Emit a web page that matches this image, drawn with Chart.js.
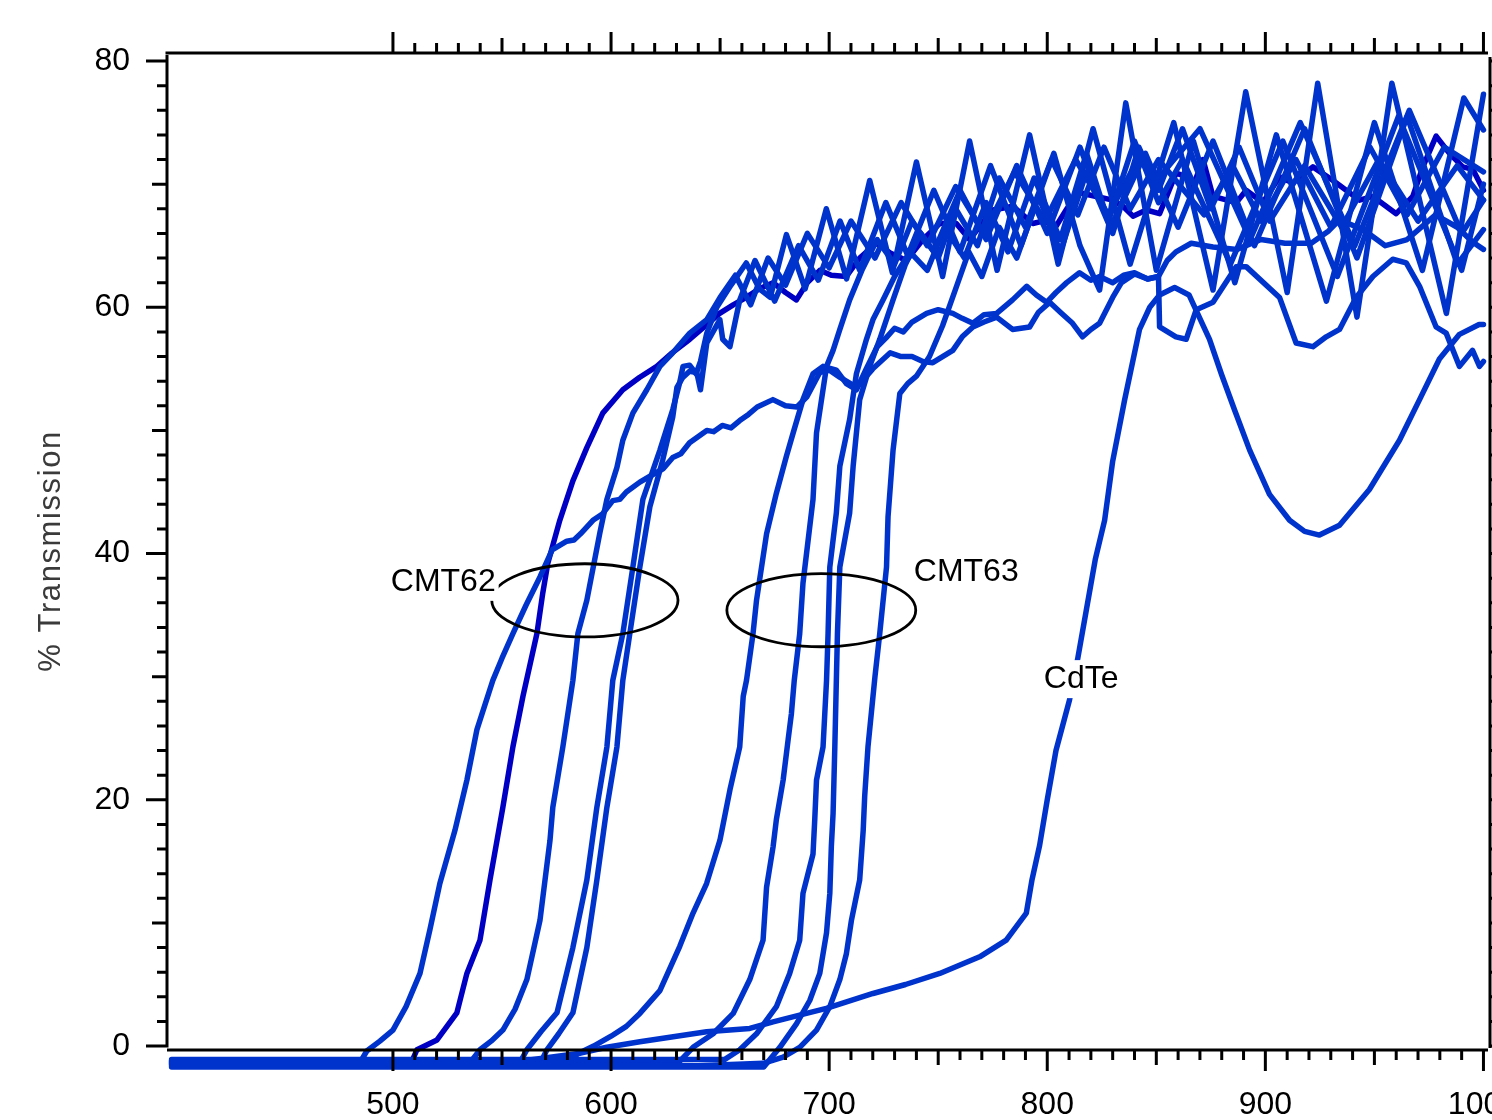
<!DOCTYPE html>
<html>
<head>
<meta charset="utf-8">
<title>% Transmission</title>
<script src="https://cdn.jsdelivr.net/npm/chart.js@4.4.1/dist/chart.umd.min.js"></script>
<style>
  body { margin: 0; background: #fff; }
  canvas { display: block; }
</style>
</head>
<body>
<canvas id="chart" width="1492" height="1120"></canvas>
<script>
// [wavelength nm, % transmission]

// CMT62 group
const cmt62a = [[398.5,-1.3],[485,-1.3],[488,-0.4],[494,0.4],[500,1.3],[506,3.2],[512.4,5.9],[517,9.5],[521.5,13.2],[528.4,17.5],[533.9,21.6],[538.5,25.7],[545.8,29.7],[550,31.5],[555,33.5],[561,35.8],[567.4,38.1],[573,40.3],[579.7,41.0],[583,41.1],[586,41.6],[591.7,42.7],[596,43.2],[600.8,44.3],[604,44.4],[607,45.0],[613.2,45.8],[620,46.5],[624,46.9],[628.3,47.8],[632,48.1],[636,49.0],[643.9,50.0],[647,49.9],[651,50.4],[655,50.2],[659,50.8],[663,51.3],[667,51.9],[674.2,52.5],[680,52.0],[685.2,51.9],[689.7,52.7],[695.7,54.7],[700,54.9],[705,54.3],[712.7,53.5],[720,55.0],[728,56.3],[733,56.0],[738,56.0],[743,55.6],[747.5,55.5],[756.7,56.5],[761,57.6],[765.9,58.4],[771,58.8],[776.8,59.2],[784.1,58.2],[791.9,58.4],[796,59.6],[801.1,60.4],[806,59.6],[811.6,58.7],[816.2,57.6],[820,58.2],[824,58.7],[830,60.8],[834,62.0],[840,62.7],[846,62.3],[851,62.5],[851.5,58.4],[859,57.6],[863.7,57.4],[868.3,59.8],[876,60.4],[886.6,63.3],[891.2,63.3],[906.5,60.8],[914.1,57.1],[921.8,56.8],[927.9,57.6],[934,58.2],[941.6,60.8],[949.3,62.5],[958.4,63.9],[964.6,63.6],[970.7,61.7],[978.3,58.4],[982.9,57.9],[989,55.2],[995,56.5],[998.2,55.2],[1000,55.6]];

const cmt62b = [[398.5,-1.5],[508,-1.5],[511,-0.3],[520.2,0.5],[529.3,2.7],[533.9,5.9],[539.9,8.6],[544.5,13.5],[547.7,16.7],[550.4,19.4],[555,24.3],[559.6,28.4],[566,33.5],[568.7,36.8],[571,39.2],[576.5,42.7],[582.5,45.9],[588.9,48.6],[596.2,51.4],[605.4,53.3],[613,54.3],[621,55.2],[628,56.3],[636.1,57.4],[642,58.3],[649.8,59.5],[656,60.2],[662,60.8],[668,61.5],[674.3,62.0],[680,61.2],[685,60.6],[690,62.0],[695.7,63.0],[701,62.6],[707.9,62.5],[714,64.0],[721.6,65.2],[728,64.4],[735.4,63.8],[743,65.5],[750.7,66.8],[758.3,66.8],[764.4,65.5],[770,66.8],[775.1,67.9],[784.3,68.2],[793.4,66.8],[798,67.0],[804.1,66.6],[809,68.0],[814.8,69.3],[822.5,69.0],[830.1,68.7],[834.7,68.2],[839.3,67.4],[845.4,67.9],[851.5,67.6],[859.1,70.9],[863.7,70.6],[866.8,69.8],[871.4,72.0],[876,69.0],[886.7,68.5],[891.2,69.5],[898.9,68.5],[906.5,70.6],[912.6,70.1],[921.8,71.4],[931,70.3],[943.2,68.7],[949.3,69.0],[960,67.6],[967.6,69.0],[972.2,71.4],[978.3,73.9],[984.4,72.5],[990.5,71.4],[995.1,71.2],[1000,69.5]];

const cmt62c = [[398.5,-1.2],[536,-1.2],[539.9,-0.3],[545,0.4],[550.4,1.3],[556,3.0],[561.4,5.4],[567.4,10.2],[572,16.7],[573.3,19.4],[577.9,24.3],[582.5,29.7],[584.8,33.5],[588.9,36.2],[594.9,41.7],[598.1,44.4],[602.7,47.0],[605.4,49.2],[610,51.4],[616.4,53.3],[622.4,55.2],[628.3,56.3],[636.1,57.9],[643.9,59.0],[650,60.8],[657,62.6],[664,60.2],[672,64.0],[680,61.8],[690,66.0],[700,63.2],[710,67.0],[721,64.0],[733,68.5],[745,65.0],[758,69.8],[771,66.0],[785,71.0],[799,67.0],[813,72.0],[828,67.5],[843,72.5],[851,70.5],[870,74.5],[893,65.5],[916,75.0],[941,65.0],[966,76.0],[990,66.0],[1000,68.7]];

const cmt62d = [[398.5,-1.4],[558,-1.4],[561.4,-0.3],[568,1.2],[575.2,2.7],[582.5,8.0],[588.9,13.5],[593.5,19.4],[598.1,24.3],[600.8,29.7],[605.4,33.5],[610,38.9],[614.6,44.4],[622.4,48.4],[628.3,51.7],[631.5,53.9],[633,55.2],[636,55.3],[639,54.6],[641,55.6],[643.9,57.9],[648.5,60.0],[655,61.8],[662,63.6],[668,61.5],[673,60.8],[680.4,65.9],[689,61.5],[698.7,68.0],[708,62.3],[718.6,70.3],[729,62.8],[740,71.8],[752,62.5],[764.4,73.5],[777,63.0],[791.9,74.0],[805,63.5],[821,74.5],[838,63.5],[858,75.0],[876,61.4],[891,77.5],[910,61.2],[924,78.2],[942,59.2],[958,78.2],[983,59.5],[1000,77.3]];

const cmt62e = [[398.5,-1.6],[567,-1.6],[570.6,-0.3],[576,1.0],[582.5,2.7],[588.9,8.0],[593.5,13.5],[598.1,19.4],[602.7,24.3],[605.4,29.7],[608.6,33.5],[613.2,38.9],[617.8,43.8],[623.7,47.6],[628.3,51.1],[630.2,53.5],[632.9,54.3],[636,54.8],[639.3,54.7],[641,53.3],[643.9,57.1],[649.9,59.0],[651.2,57.4],[654.5,56.8],[659,60.6],[666,63.8],[675,60.5],[686,65.0],[695,62.2],[705,67.0],[714,63.0],[726,68.5],[736,64.2],[748,69.5],[760,64.5],[774,71.5],[788,65.0],[803,72.5],[815,65.0],[824,61.4],[836,76.6],[850,63.0],[867,73.5],[886,62.0],[905,74.0],[928,60.5],[950,75.0],[972,63.0],[991,77.0],[1000,74.4]];

// CMT63 group
const cmt63h = [[398.5,-1.3],[580,-1.3],[585,-0.6],[592,0.0],[600,0.8],[607,1.6],[613.2,2.65],[622.4,4.5],[631.5,8.1],[637.6,10.8],[643.8,13.2],[649.9,16.7],[654.5,20.8],[659,24.3],[660.6,28.4],[662.1,29.7],[665.1,33.5],[666.7,36.2],[671.3,41.6],[675.8,44.9],[680.4,47.9],[683.5,49.8],[688,52.5],[692.6,54.6],[697.2,55.2],[703.3,54.9],[707.9,53.8],[712.5,53.3],[717,55.0],[722,56.8],[726,57.5],[730,58.3],[734,58.0],[738,58.8],[744.7,59.5],[750,59.8],[756.7,59.5],[761,59.1],[765.9,58.7],[771,59.4],[776.8,59.5],[784.1,60.6],[790.6,61.7],[795,61.0],[799.7,60.4],[804,61.2],[808.9,62.0],[814.8,62.8],[820,62.2],[824,62.5],[830,62.0],[835,62.6],[840,62.8],[846,62.3],[851,62.5],[855,63.8],[859,64.5],[866,65.2],[876,64.9],[887,64.7],[898,65.5],[909,65.2],[921,65.2],[929,66.2],[934,67.1],[945,66.3],[955,65.0],[965,65.5],[978,67.5],[988,66.5],[995,65.3],[1000,64.7]];

const cmt63i = [[398.5,-1.5],[630,-1.5],[637.6,-0.1],[646.8,1.0],[656,2.65],[663.6,5.4],[669.7,8.6],[671.3,12.9],[674.3,16.2],[675.8,18.4],[678.9,21.6],[681.2,24.9],[682.7,27.0],[684,29.7],[686.5,33.5],[688,37.6],[692.6,44.4],[694.2,49.8],[696.5,52.5],[698.8,55.2],[701.8,56.5],[704.9,58.2],[709.4,60.6],[715,63.0],[722,65.5],[730,63.5],[738,67.0],[748,64.5],[760,69.5],[772,65.5],[786,71.5],[800,66.0],[815,73.0],[829,66.5],[845,72.5],[851,70.0],[860,66.5],[876,73.5],[895,65.0],[918,74.5],[942,64.0],[965,75.5],[988,63.5],[1000,66.3]];

const cmt63j = [[398.5,-1.1],[652,-1.1],[659,-0.3],[666.7,1.0],[675.8,3.2],[681.9,5.9],[686.5,8.6],[688,12.4],[692.6,15.6],[693.4,18.4],[694.2,21.6],[697.2,24.3],[698,27.0],[698.8,29.7],[699.5,33.5],[700.3,38.9],[703.3,43.3],[704.9,47.1],[709.4,50.9],[712.5,54.6],[717.1,57.4],[720.1,59.0],[724.7,60.6],[730,62.5],[737,64.5],[745,63.0],[753,66.5],[762,64.0],[772,68.5],[782,64.5],[794,70.5],[806,65.5],[818,72.5],[828,67.0],[840,73.5],[851,68.5],[862,72.0],[884,63.5],[908,73.5],[933,62.5],[961,75.5],[990,63.0],[1000,70.0]];

const cmt63k = [[398.5,-1.7],[670,-1.7],[677.4,-0.1],[685,1.8],[691.1,3.7],[695.7,5.9],[698.8,9.2],[700.3,12.4],[701,16.2],[701.8,18.9],[702.6,24.3],[703.3,29.7],[703.8,33.5],[704.9,38.9],[709.4,43.3],[711,47.1],[714,52.5],[718.6,55.2],[723.2,57.4],[729.3,60.6],[735,63.5],[742,66.0],[750,64.0],[758,68.0],[768,65.0],[778,70.5],[790,66.5],[802,72.0],[814,67.5],[826,73.0],[838,68.0],[851,72.0],[858,70.5],[872,67.5],[885,71.5],[898,67.0],[914,72.0],[930,66.5],[948,73.0],[965,67.5],[982,73.0],[1000,71.0]];

const cmt63l = [[398.5,-1.4],[640,-1.6],[669.7,-1.4],[678.9,-0.9],[686.5,-0.1],[694.2,1.3],[700.3,3.2],[704.9,5.4],[707.9,7.5],[710.2,10.2],[714,13.5],[715.6,17.5],[716.3,20.3],[717.8,24.3],[720.1,28.4],[721,30.0],[723.2,33.5],[726.3,38.9],[727,43.0],[729.3,48.4],[732.4,53.0],[736,53.8],[740,54.4],[746,56.0],[752,58.5],[758,61.5],[764,64.5],[770,62.5],[778,66.5],[786,64.0],[796,69.0],[806,64.5],[818,71.0],[830,66.0],[842,73.0],[851,69.5],[862,74.5],[875,68.0],[888,73.0],[902,67.0],[918,71.5],[935,66.5],[952,72.0],[970,67.0],[988,71.5],[1000,68.7]];

// CdTe reference
const cdte = [[398.5,-1.2],[560,-1.2],[585,-0.6],[598,-0.1],[613.2,0.35],[628.5,0.76],[643.8,1.16],[663.6,1.43],[674.3,1.97],[689.6,2.65],[698.7,3.06],[720.1,4.27],[735,5.0],[750.7,5.9],[769,7.25],[781.2,8.6],[790.4,10.8],[793,13.5],[796.5,16.3],[800,20.0],[804,24.0],[810.2,28.1],[814,31.5],[818,35.5],[822,39.5],[826.3,42.7],[830,47.5],[835.5,52.5],[842.3,58.2],[847,60.0],[851.5,61.0],[858.4,61.6],[865,61.0],[874.4,57.4],[880,54.5],[885.8,51.7],[892.8,48.4],[901.9,44.8],[911.1,42.7],[918,41.8],[924.8,41.5],[934,42.3],[947.7,45.2],[961.5,49.2],[970.7,52.5],[979.8,55.8],[989,57.8],[998,58.6],[1000,58.6]];

const xTicks = [500, 600, 700, 800, 900, 1000];
const yTicks = [0, 20, 40, 60, 80];
const yTitle = '% Transmission';

// labels: text, wavelength of left edge, % at text middle
const notes = [['CMT62', 499, 37.7], ['CMT63', 738.8, 38.5], ['CdTe', 798.4, 29.8]];
// rings: centre wavelength, centre %, half width (nm), half height (%)
const rings = [[588, 36.2, 42.7, 2.97], [696.4, 35.4, 43.3, 2.97]];

const BLUE = '#0033cc';
const DARK_BLUE = '#0000c4';
const FONT = '"Liberation Sans", Arial, sans-serif';

function toXY(arr) {
    return arr.map(p => ({ x: p[0], y: p[1] }));
}

function line(data, color) {
    return {
        data: toXY(data),
        borderColor: color,
        borderWidth: 5.5,
        pointRadius: 0,
        tension: 0,
        borderJoinStyle: 'round',
        borderCapStyle: 'round',
        fill: false
    };
}

// Axes, ticks, labels and notes drawn on top
const frame = {
    id: 'frame',
    afterDatasetsDraw(chart) {
        const { ctx, chartArea } = chart;
        const x = chart.scales.x;
        const y = chart.scales.y;
        const left = chartArea.left;
        const right = chartArea.right;
        const top = chartArea.top;
        const base = y.getPixelForValue(0) + 4;

        ctx.save();
        ctx.strokeStyle = '#000';
        ctx.fillStyle = '#000';
        ctx.lineWidth = 3;
        ctx.lineCap = 'butt';

        ctx.beginPath();
        // left axis
        ctx.moveTo(left, top + 2);
        ctx.lineTo(left, y.getPixelForValue(0) + 1.5);
        // right axis
        ctx.moveTo(right, top + 4);
        ctx.lineTo(right, y.getPixelForValue(0) + 2);
        // top and bottom
        ctx.moveTo(left - 1.5, top);
        ctx.lineTo(right - 2, top);
        ctx.moveTo(left, base);
        ctx.lineTo(right - 2, base);

        for (let i = 0; i <= 40; i++) {
            const v = i * 2;
            const py = y.getPixelForValue(v);
            const len = v % 20 === 0 ? 21 : v % 10 === 0 ? 15 : 10;
            ctx.moveTo(left - len, py);
            ctx.lineTo(left, py);
            ctx.moveTo(right, py);
            ctx.lineTo(right + 8, py);
        }
        for (let i = 0; i <= 50; i++) {
            const v = 500 + i * 10;
            const px = x.getPixelForValue(v);
            const len = v % 100 === 0 ? 21 : v % 50 === 0 ? 15 : 10;
            ctx.moveTo(px, base);
            ctx.lineTo(px, base + len);
            ctx.moveTo(px, top);
            ctx.lineTo(px, top - len);
        }
        ctx.stroke();

        ctx.font = '32px ' + FONT;
        ctx.textBaseline = 'middle';
        ctx.textAlign = 'center';
        xTicks.forEach(v => ctx.fillText(String(v), x.getPixelForValue(v), 1105));
        ctx.textAlign = 'right';
        yTicks.forEach(v => ctx.fillText(String(v), 130, y.getPixelForValue(v)));

        // y title
        ctx.save();
        ctx.translate(51, 551);
        ctx.rotate(-Math.PI / 2);
        ctx.textAlign = 'center';
        ctx.fillStyle = '#3a3a3a';
        ctx.font = '31px ' + FONT;
        ctx.letterSpacing = '1.6px';
        ctx.fillText(yTitle, 0, 0);
        ctx.restore();

        // rings
        ctx.lineWidth = 2.8;
        rings.forEach(r => {
            const cx = x.getPixelForValue(r[0]);
            const cy = y.getPixelForValue(r[1]);
            const rx = x.getPixelForValue(r[0] + r[2]) - cx;
            const ry = y.getPixelForValue(r[1] - r[3]) - cy;
            ctx.beginPath();
            ctx.ellipse(cx, cy, rx, ry, 0, 0, Math.PI * 2);
            ctx.stroke();
        });

        // notes with white backing
        ctx.textAlign = 'left';
        notes.forEach(n => {
            const px = x.getPixelForValue(n[1]);
            const py = y.getPixelForValue(n[2]);
            const w = ctx.measureText(n[0]).width;
            ctx.fillStyle = '#fff';
            ctx.fillRect(px - 3, py - 19, w + 6, 38);
            ctx.fillStyle = '#000';
            ctx.fillText(n[0], px, py);
        });

        ctx.restore();
    }
};

new Chart(document.getElementById('chart'), {
    type: 'line',
    data: {
        datasets: [
            line(cdte, BLUE),
            line(cmt63h, BLUE),
            line(cmt62a, BLUE),
            line(cmt63l, BLUE),
            line(cmt63k, BLUE),
            line(cmt63j, BLUE),
            line(cmt63i, BLUE),
            line(cmt62e, BLUE),
            line(cmt62c, BLUE),
            line(cmt62d, BLUE),
            line(cmt62b, DARK_BLUE)
        ]
    },
    options: {
        responsive: false,
        animation: false,
        devicePixelRatio: 1,
        layout: { padding: { left: 167, right: 2, top: 53, bottom: 45 } },
        scales: {
            x: { type: 'linear', min: 396.4, max: 1003, display: false },
            y: { type: 'linear', min: -2.35, max: 80.65, display: false }
        },
        plugins: {
            legend: { display: false },
            tooltip: { enabled: false }
        }
    },
    plugins: [frame]
});
</script>
</body>
</html>
